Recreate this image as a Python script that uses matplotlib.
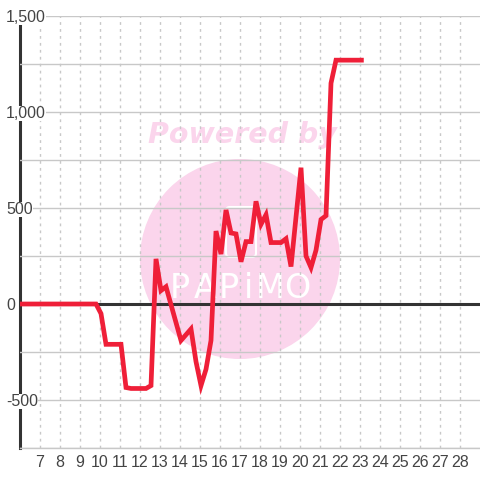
import matplotlib
matplotlib.use('Agg')
import matplotlib.pyplot as plt
from matplotlib.patches import Circle, FancyBboxPatch

plt.rcParams['font.family'] = ['Liberation Sans', 'DejaVu Sans']

hours = [6, 9.8, 10.05, 10.3, 10.55, 11.05, 11.3, 11.55, 12.05, 12.3, 12.55, 12.8, 13.05, 13.3, 14.05, 14.55, 14.8, 15.05,
         15.3, 15.55, 15.8, 16.05, 16.3, 16.55, 16.8, 17.05, 17.3, 17.55, 17.8, 18.05, 18.3, 18.55, 19.05,
         19.3, 19.55, 20.05, 20.3, 20.55, 20.8, 21.05, 21.3, 21.55, 21.8, 22.05, 23.07]
values = [0, 0, -50, -210, -210, -210, -435, -440, -440, -440, -425, 235, 70, 90, -190, -130, -300, -425,
          -340, -190, 380, 260, 490, 370, 365, 220, 325, 325, 535, 415, 465, 320, 320,
          340, 195, 710, 250, 190, 280, 440, 460, 1150, 1270, 1270, 1270]
xticks = list(range(7, 29))
yticks = [-500, 0, 500, 1000, 1500]
yminor = [-750, -250, 250, 750, 1250]
ylabels = ['-500', '0', '500', '1,000', '1,500']
mark_letters = ['P', 'A', 'P', 'i', 'M', 'O']

W = 480
fig = plt.figure(figsize=(4.8, 4.8), dpi=100, facecolor='white')
ax = fig.add_axes([20 / W, 1 - 448 / W, 460 / W, 432 / W])
ax.patch.set_alpha(0)

# watermark goes on the figure with a low zorder so it stays under the axes
pink = '#fbd5ec'
fig.add_artist(Circle((240 / W, 1 - 259 / W), 100 / W, transform=fig.transFigure, fc=pink, ec='none', zorder=-3))
fig.text(242 / W, 1 - 135 / W, 'Powered by', color=pink, fontsize=20.5, fontweight='bold', fontstyle='italic',
         family='DejaVu Sans', ha='center', va='center', zorder=-2)
fig.add_artist(FancyBboxPatch((226 / W, 1 - 257 / W), 30 / W, 50 / W, boxstyle='round,pad=0,rounding_size=0.008',
                              transform=fig.transFigure, fc='none', ec='white', lw=1.5, zorder=-2))
mark_x = [180, 205, 229, 248, 270, 297]
for px, letter in zip(mark_x, mark_letters):
    fig.text(px / W, 1 - 289 / W, letter, color='white', fontsize=24, family='Liberation Sans Narrow',
             ha='center', va='center', zorder=-2)

ax.set_xlim(6, 29)
ax.set_ylim(-750, 1500)
ax.set_xticks(xticks)
ax.set_yticks(yticks)
ax.set_yticks(yminor, minor=True)
ax.set_yticklabels(ylabels)

ax.grid(True, axis='y', which='both', color='#c8c8c8', lw=1)
ax.grid(True, axis='x', color='#c8c8c8', lw=1, ls=(0, (2, 3)))
ax.tick_params(axis='both', which='both', length=0, labelsize=11.5, labelcolor='#444444')
ax.tick_params(axis='x', pad=5)
ax.tick_params(axis='y', pad=10)
for lab in ax.get_yticklabels():
    lab.set_ha('left')
    lab.set_bbox(dict(fc='white', ec='none', pad=0))

for s in ['top', 'right']:
    ax.spines[s].set_visible(False)
ax.spines['left'].set_color('#333333')
ax.spines['left'].set_linewidth(2.2)
ax.spines['left'].set_zorder(1)
ax.spines['bottom'].set_color('#c8c8c8')
ax.spines['bottom'].set_linewidth(1)

ax.axhline(0, color='#333333', lw=2.2, zorder=2.6)
ax.plot(hours, values, color='#ef1f38', lw=3.4, zorder=3, solid_joinstyle='miter')

fig.savefig('out.png', dpi=100)
